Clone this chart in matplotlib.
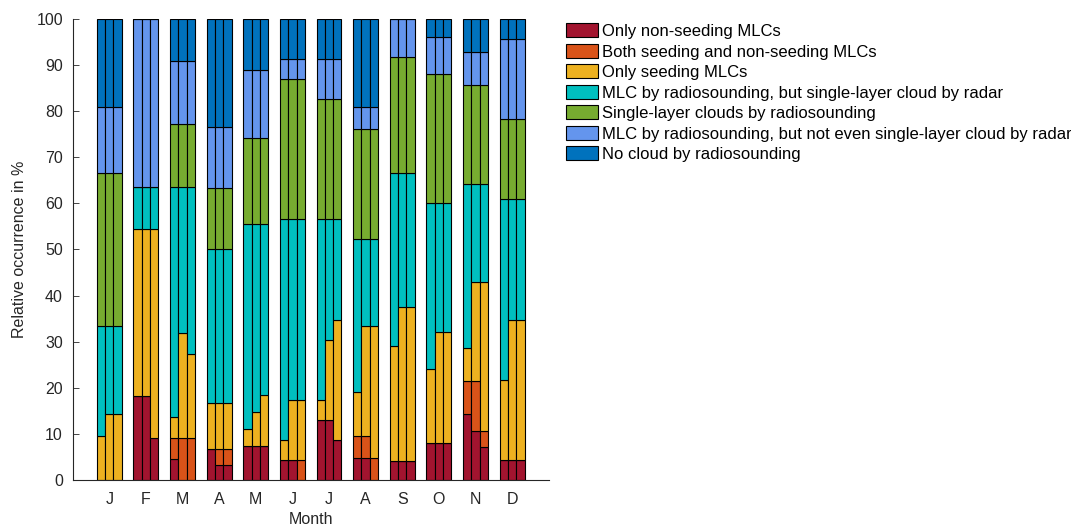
import matplotlib
matplotlib.use("Agg")
import matplotlib.pyplot as plt
import numpy as np

plt.rcParams['font.family'] = ['Liberation Sans', 'DejaVu Sans']

months = ['J', 'F', 'M', 'A', 'M', 'J', 'J', 'A', 'S', 'O', 'N', 'D']
labels = ['Only non-seeding MLCs',
          'Both seeding and non-seeding MLCs',
          'Only seeding MLCs',
          'MLC by radiosounding, but single-layer cloud by radar',
          'Single-layer clouds by radiosounding',
          'MLC by radiosounding, but not even single-layer cloud by radar',
          'No cloud by radiosounding']
colors = ['#A2142F', '#D95319', '#EDB120', '#00BFBF', '#77AC30', '#6495ED', '#0072BD']

# three bars per month: red / orange / yellow differ, the rest is shared
red_l = [0, 18.18, 4.55, 6.67, 7.41, 4.35, 13.04, 4.76, 4.17, 8.0, 14.29, 4.35]
red_m = [0, 18.18, 0, 3.33, 7.41, 4.35, 13.04, 4.76, 4.17, 8.0, 10.71, 4.35]
red_r = [0, 9.09, 0, 3.33, 7.41, 0, 8.70, 0, 4.17, 8.0, 7.14, 4.35]

orange_l = [0, 0, 4.55, 0, 0, 0, 0, 4.76, 0, 0, 7.14, 0]
orange_m = [0, 0, 9.09, 3.33, 0, 0, 0, 4.76, 0, 0, 10.71, 0]
orange_r = [0, 0, 9.09, 3.33, 0, 4.35, 0, 4.76, 0, 0, 3.57, 0]

yellow_l = [9.52, 36.36, 4.55, 10.0, 3.70, 4.35, 4.35, 9.52, 25.0, 16.0, 7.14, 17.39]
yellow_m = [14.29, 36.36, 22.73, 10.0, 7.41, 13.04, 17.39, 23.81, 33.33, 24.0, 21.43, 30.43]
yellow_r = [14.29, 45.45, 18.18, 10.0, 11.11, 13.04, 26.09, 28.57, 33.33, 24.0, 32.14, 30.43]

# top of the cyan segment (all MLC by radiosounding)
mlc_top = [33.33, 63.64, 63.64, 50.0, 55.56, 56.52, 56.52, 52.38, 66.67, 60.0, 64.29, 60.87]
single_layer = [33.33, 0, 13.64, 13.33, 18.52, 30.43, 26.09, 23.81, 25.0, 28.0, 21.43, 17.39]
not_even = [14.29, 36.36, 13.64, 13.33, 14.81, 4.35, 8.70, 4.76, 8.33, 8.0, 7.14, 17.39]
no_cloud = [19.05, 0, 9.09, 23.33, 11.11, 8.70, 8.70, 19.05, 0, 4.0, 7.14, 4.35]

fig = plt.figure(figsize=(10.71, 5.26), dpi=100)
ax = fig.add_axes([0.0679, 0.0875, 0.4444, 0.8764])

x = np.arange(1, 13)
w = 0.227
handles = None
for off, red, orange, yellow in [(-w, red_l, orange_l, yellow_l),
                                 (0, red_m, orange_m, yellow_m),
                                 (w, red_r, orange_r, yellow_r)]:
    red = np.array(red)
    orange = np.array(orange)
    yellow = np.array(yellow)
    cyan = np.array(mlc_top) - red - orange - yellow
    segs = [red, orange, yellow, cyan, np.array(single_layer),
            np.array(not_even), np.array(no_cloud)]
    bottom = np.zeros(12)
    bars = []
    for seg, c in zip(segs, colors):
        b = ax.bar(x + off, seg, w, bottom=bottom, color=c,
                   edgecolor='black', linewidth=0.8)
        bars.append(b)
        bottom = bottom + seg
    if handles is None:
        handles = bars

ax.set_xlim(0, 13)
ax.set_ylim(0, 100)
ax.set_xticks(x)
ax.set_xticklabels(months)
ax.set_yticks(np.arange(0, 101, 10))
ax.tick_params(direction='in', length=4, labelsize=11.5, colors='#262626', width=0.6)
ax.tick_params(axis='y', pad=7)
ax.tick_params(axis='x', length=0, pad=9)
for s in ['top', 'right']:
    ax.spines[s].set_visible(False)
for s in ['left', 'bottom']:
    ax.spines[s].set_color('#262626')
    ax.spines[s].set_linewidth(0.8)
ax.set_ylabel('Relative occurrence in %', fontsize=11.5, color='#262626', labelpad=7)
ax.set_xlabel('Month', fontsize=11.5, color='#262626', labelpad=3)

fig.legend(handles, labels, loc='upper left', bbox_to_anchor=(566 / 1071, 1 - 23.5 / 526),
           frameon=False, fontsize=12, handlelength=1.89, handleheight=0.9,
           handletextpad=0.24, labelspacing=0.29, borderaxespad=0, borderpad=0)

fig.savefig('out.png', dpi=100)
